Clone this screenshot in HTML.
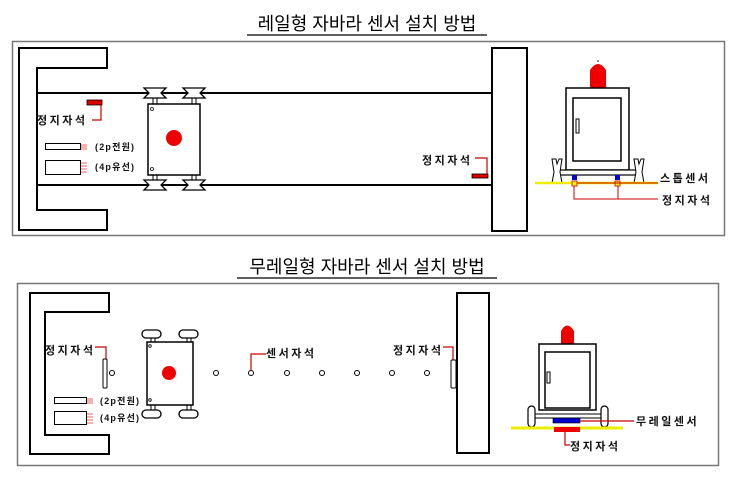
<!DOCTYPE html>
<html><head><meta charset="utf-8"><style>
body{margin:0;background:#fff}
svg{display:block}
text{font-family:"Liberation Sans","Noto Sans CJK KR","NanumGothic",sans-serif}
.l{font-size:11px;font-weight:bold;fill:#111;letter-spacing:2.5px}
.s{font-size:9px;font-weight:bold;fill:#111;letter-spacing:1.2px}
</style></head><body>
<svg width="730" height="482" viewBox="0 0 730 482" xmlns="http://www.w3.org/2000/svg">
<defs>
<g id="pul">
<path d="M-11,-5 L11,-5 L6,0 L11,5 L-11,5 L-6,0 Z" fill="#fff" stroke="#000" stroke-width="1.3"/>
</g>
</defs>
<text x="367" y="30" text-anchor="middle" font-size="18" fill="#000">레일형 자바라 센서 설치 방법</text>
<line x1="247" y1="35" x2="487" y2="35" stroke="#000" stroke-width="1.2"/>
<rect x="12.5" y="41.5" width="712" height="194" fill="none" stroke="#777" stroke-width="1.5"/>
<polygon points="19,48 107,48 107,68 37,68 37,210 107,210 107,230 19,230" fill="#fff" stroke="#000" stroke-width="2"/>
<line x1="37" y1="93" x2="493" y2="93" stroke="#000" stroke-width="2"/>
<line x1="37" y1="185" x2="493" y2="185" stroke="#000" stroke-width="2"/>
<rect x="492" y="48" width="35" height="183" fill="#fff" stroke="#000" stroke-width="2"/>
<rect x="153" y="98" width="4" height="6" fill="#fff" stroke="#000"/>
<rect x="192" y="98" width="4" height="6" fill="#fff" stroke="#000"/>
<rect x="153" y="175" width="4" height="6" fill="#fff" stroke="#000"/>
<rect x="192" y="175" width="4" height="6" fill="#fff" stroke="#000"/>
<use href="#pul" x="155" y="93"/><use href="#pul" x="194" y="93"/>
<use href="#pul" x="155" y="185"/><use href="#pul" x="194" y="185"/>
<rect x="148" y="104" width="52" height="71" fill="#fff" stroke="#000" stroke-width="1.5"/>
<circle cx="152" cy="109" r="1.5" fill="none" stroke="#000" stroke-width="0.8"/>
<circle cx="152" cy="169" r="1.5" fill="none" stroke="#000" stroke-width="0.8"/>
<circle cx="174" cy="138" r="8" fill="#e00"/>
<rect x="87" y="100" width="15" height="5" fill="#d00" stroke="#000" stroke-width="0.8"/>
<polyline points="101,105 101,120 92,120" fill="none" stroke="#c00" stroke-width="1.2"/>
<text x="37" y="124" class="l">정지자석</text>
<rect x="45.5" y="143.5" width="35" height="6" fill="#fff" stroke="#000"/>
<path d="M81,145h6M81,147h6M81,149h6" stroke="#d33" stroke-width="0.8"/>
<text x="95" y="150" class="s">(2p전원)</text>
<rect x="45.5" y="160.5" width="35" height="14" fill="#fff" stroke="#000"/>
<path d="M81,163h6M81,166h6M81,169h6M81,172h6" stroke="#d33" stroke-width="0.8"/>
<text x="95" y="170" class="s">(4p유선)</text>
<text x="422" y="164" class="l">정지자석</text>
<polyline points="475,158 487,158 487,174" fill="none" stroke="#c00" stroke-width="1.2"/>
<rect x="472" y="174" width="16" height="4" fill="#d00" stroke="#000" stroke-width="0.8"/>
<path d="M590,88 L590,70 Q598,58 606,70 L606,88 Z" fill="#e00"/>
<circle cx="598" cy="61" r="0.8" fill="#000"/>
<rect x="566" y="88" width="63" height="82" fill="#fff" stroke="#000" stroke-width="1.5"/>
<rect x="573" y="98" width="48" height="63" fill="#fff" stroke="#000" stroke-width="1.5"/>
<rect x="576" y="119" width="3" height="14" fill="#fff" stroke="#000"/>
<rect x="558" y="170" width="82" height="5" fill="#fff" stroke="#000" stroke-width="1.2"/>
<path d="M552,159 L556,159 L557,164 L559,159 L562,159 L560,172 L562,183 L552,183 L554,172 Z" fill="#fff" stroke="#000"/>
<path d="M634,159 L638,159 L639,164 L641,159 L644,159 L642,172 L644,183 L634,183 L636,172 Z" fill="#fff" stroke="#000"/>
<line x1="535" y1="183" x2="658" y2="183" stroke="#ee0" stroke-width="2.5"/>
<rect x="572" y="175" width="5" height="5" fill="#00c"/>
<rect x="615" y="175" width="5" height="5" fill="#00c"/>
<rect x="572" y="181" width="5" height="5" fill="#ee0" stroke="#c00" stroke-width="0.8"/>
<rect x="615" y="181" width="5" height="5" fill="#ee0" stroke="#c00" stroke-width="0.8"/>
<line x1="577" y1="183" x2="658" y2="183" stroke="#c00" stroke-width="1"/>
<polyline points="574,186 574,199 658,199" fill="none" stroke="#c00" stroke-width="1"/>
<line x1="618" y1="186" x2="618" y2="199" stroke="#c00" stroke-width="1"/>
<text x="660" y="182" class="l">스톱센서</text>
<text x="662" y="204" class="l">정지자석</text>

<text x="367" y="273" text-anchor="middle" font-size="18" fill="#000">무레일형 자바라 센서 설치 방법</text>
<line x1="237" y1="278" x2="497" y2="278" stroke="#000" stroke-width="1.2"/>
<rect x="17.5" y="283.5" width="701" height="182" fill="none" stroke="#777" stroke-width="1.5"/>
<polygon points="30,293 109,293 109,312 45,312 45,435 109,435 109,454 30,454" fill="#fff" stroke="#000" stroke-width="2"/>
<rect x="457" y="293" width="32" height="160" fill="#fff" stroke="#000" stroke-width="2"/>
<text x="45" y="354" class="l">정지자석</text>
<polyline points="95,347 106,347 106,359" fill="none" stroke="#c00" stroke-width="1.2"/>
<rect x="103" y="359" width="4" height="29" rx="1" fill="#fff" stroke="#000"/>
<rect x="54.5" y="397.5" width="32" height="6" fill="#fff" stroke="#000"/>
<path d="M87,399h6M87,401h6M87,403h6" stroke="#d33" stroke-width="0.8"/>
<text x="100" y="404" class="s">(2p전원)</text>
<rect x="54.5" y="411.5" width="32" height="13" fill="#fff" stroke="#000"/>
<path d="M87,414h6M87,417h6M87,420h6M87,423h6" stroke="#d33" stroke-width="0.8"/>
<text x="100" y="421" class="s">(4p유선)</text>
<rect x="151" y="337" width="4" height="6" fill="#fff" stroke="#000"/>
<rect x="187" y="337" width="4" height="6" fill="#fff" stroke="#000"/>
<rect x="151" y="404" width="4" height="6" fill="#fff" stroke="#000"/>
<rect x="187" y="404" width="4" height="6" fill="#fff" stroke="#000"/>
<rect x="142" y="330" width="19" height="8" rx="4" fill="#fff" stroke="#000" stroke-width="1.3"/>
<rect x="179" y="330" width="19" height="8" rx="4" fill="#fff" stroke="#000" stroke-width="1.3"/>
<rect x="142" y="410" width="19" height="8" rx="4" fill="#fff" stroke="#000" stroke-width="1.3"/>
<rect x="179" y="410" width="19" height="8" rx="4" fill="#fff" stroke="#000" stroke-width="1.3"/>
<rect x="147" y="342" width="46" height="63" fill="#fff" stroke="#000" stroke-width="1.5"/>
<circle cx="150" cy="346" r="1.3" fill="none" stroke="#000" stroke-width="0.8"/>
<circle cx="150" cy="400" r="1.3" fill="none" stroke="#000" stroke-width="0.8"/>
<circle cx="169" cy="373" r="7" fill="#e00"/>
<g fill="#fff" stroke="#000" stroke-width="1">
<circle cx="112" cy="373" r="2.5"/><circle cx="216" cy="373" r="2.5"/><circle cx="251" cy="373" r="2.5"/>
<circle cx="287" cy="373" r="2.5"/><circle cx="322" cy="373" r="2.5"/><circle cx="357" cy="373" r="2.5"/>
<circle cx="392" cy="373" r="2.5"/><circle cx="427" cy="373" r="2.5"/>
</g>
<polyline points="251,370 251,354 266,354" fill="none" stroke="#c00" stroke-width="1.2"/>
<text x="266" y="357" class="l">센서자석</text>
<text x="393" y="354" class="l">정지자석</text>
<polyline points="443,347 453,347 453,360" fill="none" stroke="#c00" stroke-width="1.2"/>
<rect x="451" y="360" width="5" height="28" rx="1" fill="#fff" stroke="#000"/>
<path d="M561,344 L561,331 Q567,320 574,331 L574,344 Z" fill="#e00"/>
<rect x="539" y="344" width="57" height="66" fill="#fff" stroke="#000" stroke-width="1.5"/>
<rect x="545" y="352" width="45" height="56" fill="#fff" stroke="#000" stroke-width="1.5"/>
<rect x="547" y="372" width="3" height="11" fill="#fff" stroke="#000"/>
<rect x="532" y="414" width="72" height="4" fill="#fff" stroke="#000"/>
<rect x="528" y="406" width="7" height="21" rx="3.5" fill="#fff" stroke="#000" stroke-width="1.2"/>
<rect x="601" y="406" width="7" height="21" rx="3.5" fill="#fff" stroke="#000" stroke-width="1.2"/>
<line x1="511" y1="428" x2="623" y2="428" stroke="#ee0" stroke-width="3"/>
<rect x="553" y="418" width="27" height="5" fill="#00c" stroke="#000" stroke-width="0.6"/>
<rect x="554" y="427" width="26" height="5" fill="#e00"/>
<line x1="580" y1="421" x2="634" y2="421" stroke="#c00" stroke-width="1.2"/>
<text x="636" y="425" class="l">무레일센서</text>
<polyline points="565,432 565,445 570,445" fill="none" stroke="#c00" stroke-width="1.2"/>
<text x="570" y="450" class="l">정지자석</text>
</svg>
</body></html>
